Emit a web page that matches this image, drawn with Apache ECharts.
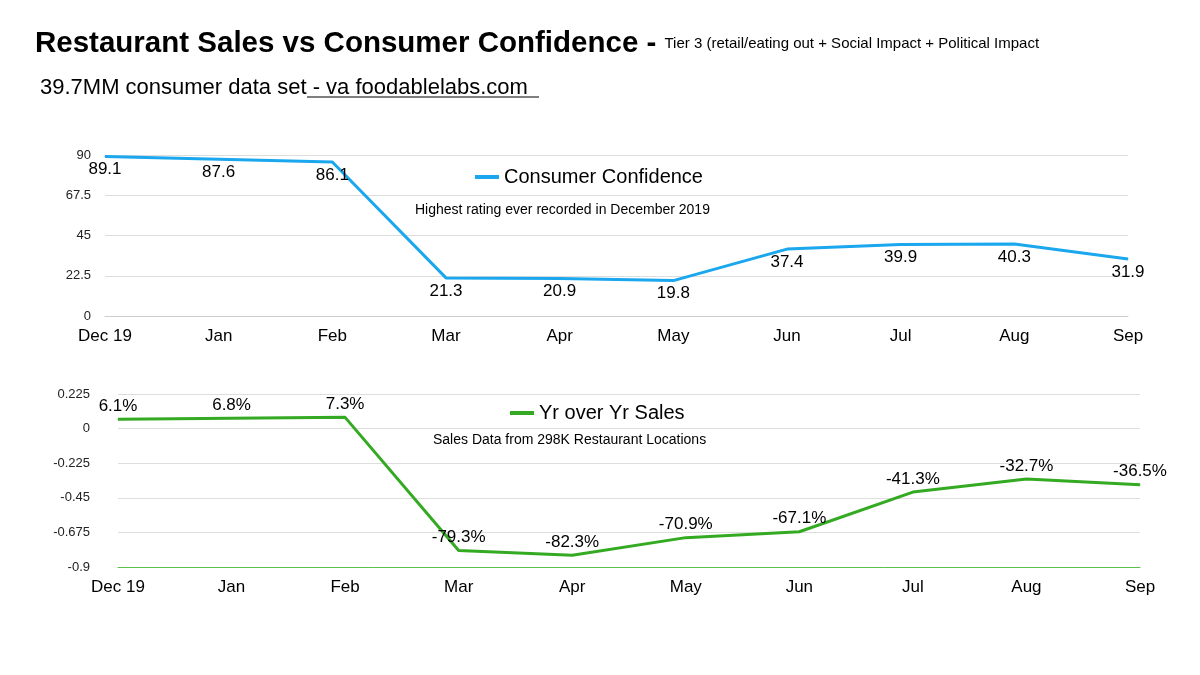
<!DOCTYPE html>
<html><head><meta charset="utf-8">
<script src="https://cdn.jsdelivr.net/npm/echarts@6/dist/echarts.min.js"></script>
<style>body{margin:0}#c{width:1200px;height:675px}</style></head>
<body><div id="c"></div>
<script>
var months = ['Dec 19','Jan','Feb','Mar','Apr','May','Jun','Jul','Aug','Sep'];
var confidence = [89.1, 87.6, 86.1, 21.3, 20.9, 19.8, 37.4, 39.9, 40.3, 31.9];
var yoySales = [0.061, 0.068, 0.073, -0.793, -0.823, -0.709, -0.671, -0.413, -0.327, -0.365];

var chart = echarts.init(document.getElementById('c'));
var font = 'Helvetica, Arial, "Liberation Sans", sans-serif';

var option = {
    textStyle: {fontFamily: font},
    title: [{
        left: 30, top: 24,
        text: '{b|Restaurant Sales vs Consumer Confidence - }{s|Tier 3 (retail/eating out + Social Impact + Political Impact}',
        textStyle: {rich: {
            b: {fontSize: 29.5, fontWeight: 'bold', color: '#000', fontFamily: font},
            s: {fontSize: 15, fontWeight: 'normal', color: '#000', fontFamily: font}
        }}
    }, {
        left: 35, top: 72,
        text: '39.7MM consumer data set - va foodablelabs.com',
        textStyle: {fontSize: 22, fontWeight: 'normal', color: '#000', fontFamily: font}
    }],
    graphic: [
        {type: 'line', shape: {x1: 307, y1: 97, x2: 539, y2: 97}, style: {stroke: '#000', lineWidth: 1.2}},
        {type: 'text', left: 415, top: 203, style: {text: 'Highest rating ever recorded in December 2019', fontSize: 14, fill: '#000', fontFamily: font}},
        {type: 'text', left: 433, top: 433, style: {text: 'Sales Data from 298K Restaurant Locations', fontSize: 14, fill: '#000', fontFamily: font}}
    ],
    legend: [{
        data: ['Consumer Confidence'], left: 470, top: 162, itemWidth: 24, itemHeight: 4,
        icon: 'rect', textStyle: {fontSize: 20, color: '#000'}
    }, {
        data: ['Yr over Yr Sales'], left: 505, top: 398, itemWidth: 24, itemHeight: 4,
        icon: 'rect', textStyle: {fontSize: 20, color: '#000'}
    }],
    grid: [
        {left: 105, right: 72, top: 155, height: 161},
        {left: 118, right: 60, top: 394, height: 173}
    ],
    xAxis: [0, 1].map(function (i) {
        return {
            gridIndex: i, type: 'category', data: months, boundaryGap: false,
            axisTick: {show: false},
            axisLine: {show: true, onZero: false, lineStyle: {color: i ? '#5cbf4a' : '#ccc'}},
            axisLabel: {fontSize: 17, color: '#000', margin: 12}
        };
    }),
    yAxis: [{
        gridIndex: 0, type: 'value', min: 0, max: 90, interval: 22.5,
        axisLabel: {fontSize: 13, color: '#222', margin: 14},
        splitLine: {lineStyle: {color: '#ddd'}}
    }, {
        gridIndex: 1, type: 'value', min: -0.9, max: 0.225, interval: 0.225,
        axisLabel: {fontSize: 13, color: '#222', margin: 28},
        splitLine: {lineStyle: {color: '#ddd'}}
    }],
    series: [{
        name: 'Consumer Confidence', type: 'line', data: confidence,
        xAxisIndex: 0, yAxisIndex: 0, showSymbol: true, symbol: 'circle', symbolSize: 1,
        lineStyle: {color: '#1aa7ee', width: 3}, itemStyle: {color: '#1aa7ee'},
        label: {show: true, position: 'bottom', fontSize: 17, color: '#000', distance: 4}
    }, {
        name: 'Yr over Yr Sales', type: 'line', data: yoySales,
        xAxisIndex: 1, yAxisIndex: 1, showSymbol: true, symbol: 'circle', symbolSize: 1,
        lineStyle: {color: '#33aa22', width: 3}, itemStyle: {color: '#33aa22'},
        label: {show: true, position: 'top', fontSize: 17, color: '#000', distance: 4,
            formatter: function (p) { return (p.value * 100).toFixed(1) + '%'; }}
    }]
};
chart.setOption(option);
</script></body></html>
